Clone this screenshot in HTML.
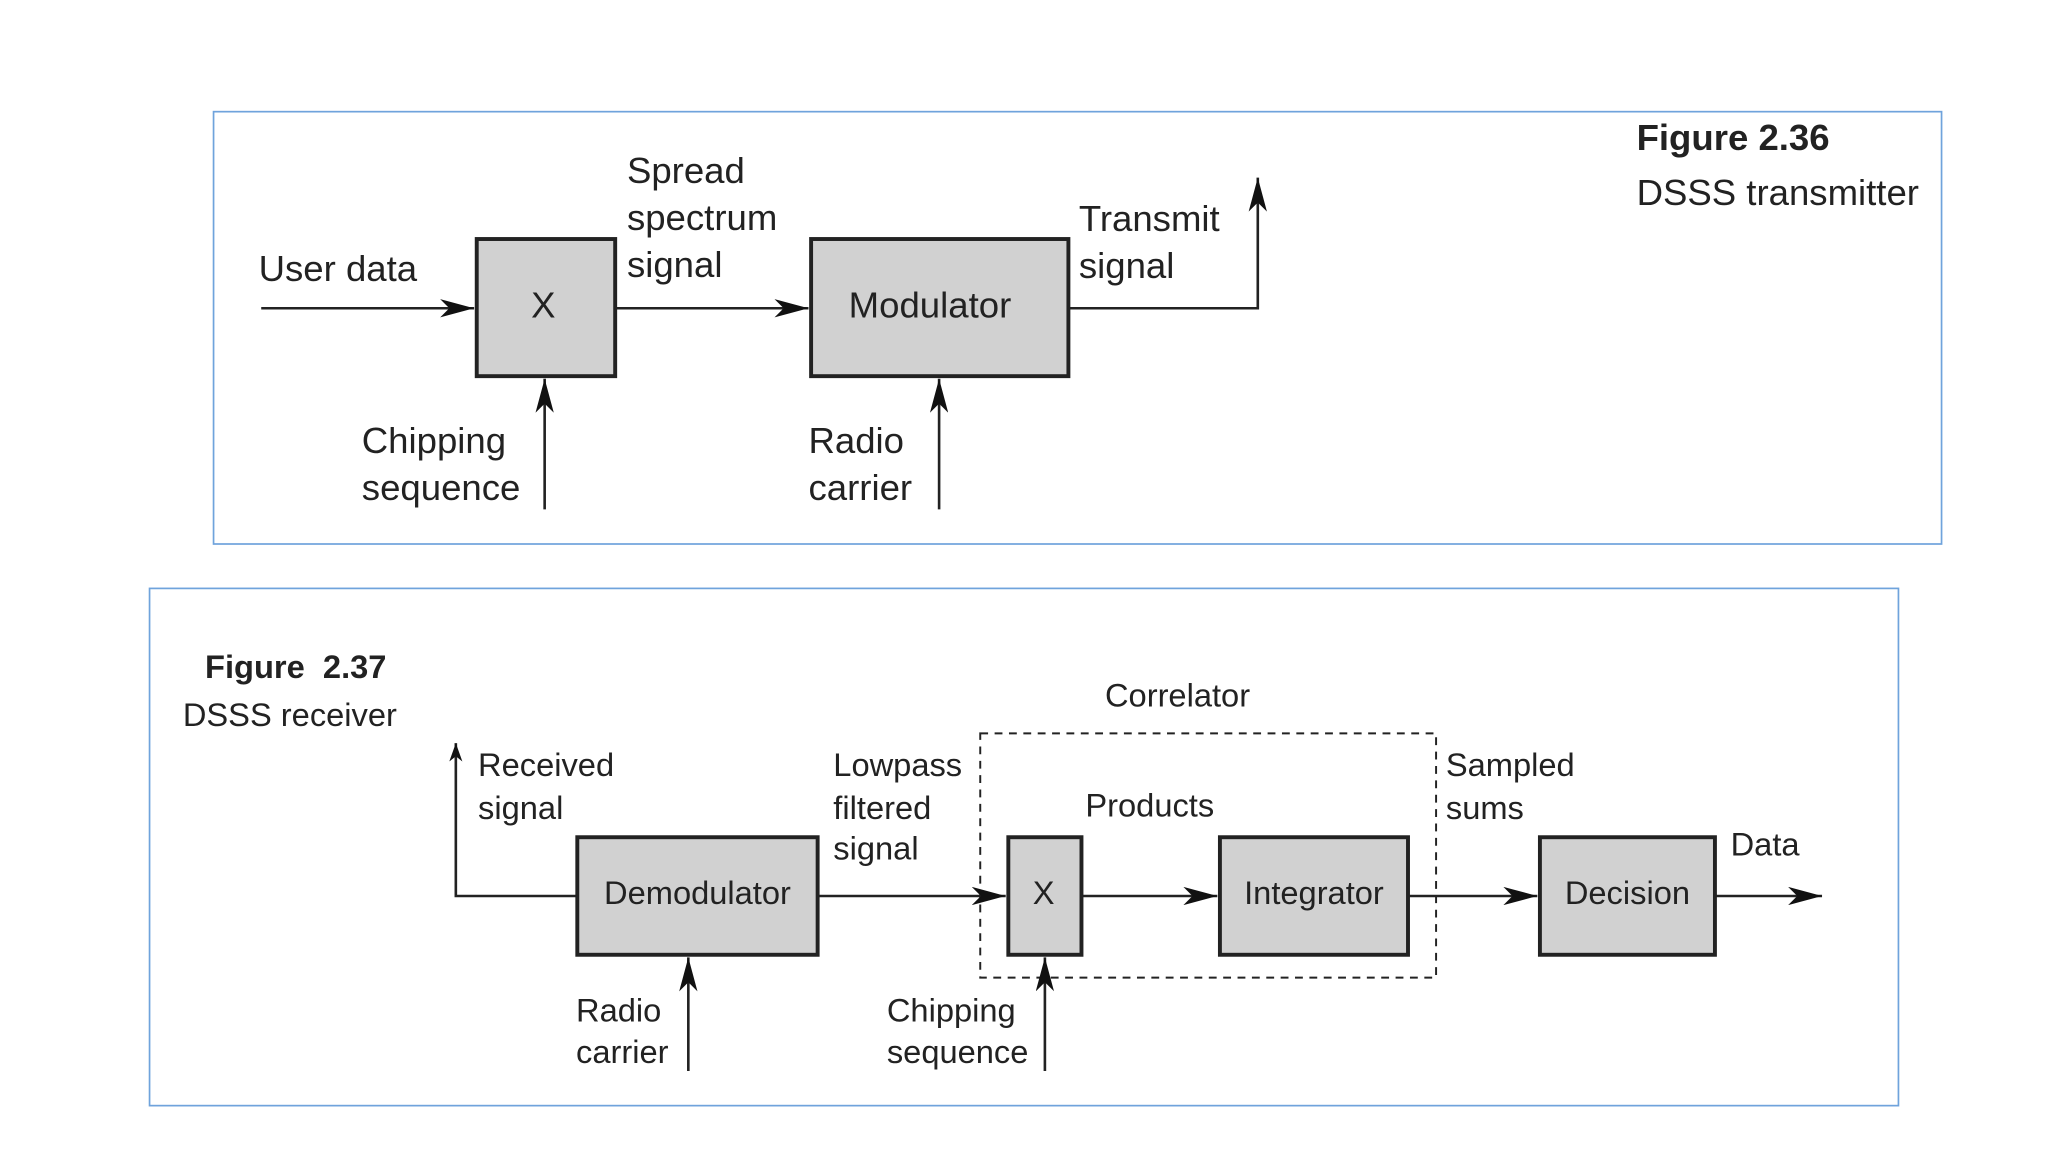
<!DOCTYPE html>
<html><head><meta charset="utf-8"><style>
html,body{margin:0;padding:0;background:#fff;}
svg{display:block;}
text{font-family:"Liberation Sans",sans-serif;fill:#222;}
</style></head><body>
<svg width="2048" height="1152" viewBox="0 0 1568 882" preserveAspectRatio="none" xmlns="http://www.w3.org/2000/svg">
<defs>
<marker id="a" markerWidth="14" markerHeight="10" refX="14" refY="5" orient="auto" markerUnits="userSpaceOnUse">
<path d="M0,0 L14,5 L0,10 L4,5 Z" fill="#111"/>
</marker>
<marker id="b" markerWidth="26" markerHeight="14" refX="26" refY="7" orient="auto" markerUnits="userSpaceOnUse">
<path d="M0,0 L26,7 L0,14 L7,7 Z" fill="#111"/>
</marker>
</defs>
<rect width="1568" height="882" fill="#fff"/>
<rect x="163.5" y="85.5" width="1323" height="331" fill="#fff" stroke="#6fa3dc" stroke-width="1.3"/>
<rect x="114.5" y="450.5" width="1339" height="396" fill="#fff" stroke="#6fa3dc" stroke-width="1.3"/>

<g stroke="#222" stroke-width="2" fill="none">
<line x1="200" y1="236" x2="363" y2="236" marker-end="url(#b)"/>
<line x1="471" y1="236" x2="619" y2="236" marker-end="url(#b)"/>
<polyline points="818,236 963,236 963,136" marker-end="url(#b)"/>
<line x1="417" y1="390" x2="417" y2="290" marker-end="url(#b)"/>
<line x1="719" y1="390" x2="719" y2="290" marker-end="url(#b)"/>
</g>
<g fill="#d1d1d1" stroke="#222" stroke-width="3">
<rect x="365" y="183" width="106" height="105"/>
<rect x="621" y="183" width="197" height="105"/>
</g>
<g font-size="28">
<text x="416" y="243" text-anchor="middle">X</text>
<text x="712" y="243" text-anchor="middle">Modulator</text>
<text x="198" y="215">User data</text>
<text x="480" y="140">Spread</text>
<text x="480" y="176">spectrum</text>
<text x="480" y="212">signal</text>
<text x="826" y="177">Transmit</text>
<text x="826" y="213">signal</text>
<text x="277" y="347">Chipping</text>
<text x="277" y="383">sequence</text>
<text x="619" y="347">Radio</text>
<text x="619" y="383">carrier</text>
<text x="1253" y="115" font-weight="bold">Figure 2.36</text>
<text x="1253" y="157">DSSS transmitter</text>
</g>

<rect x="750.5" y="561.5" width="349" height="187" fill="none" stroke="#222" stroke-width="1.5" stroke-dasharray="6,5"/>
<g stroke="#222" stroke-width="2" fill="none">
<polyline points="442,686 349,686 349,569" marker-end="url(#a)"/>
<line x1="626" y1="686" x2="770" y2="686" marker-end="url(#b)"/>
<line x1="828" y1="686" x2="932" y2="686" marker-end="url(#b)"/>
<line x1="1078" y1="686" x2="1177" y2="686" marker-end="url(#b)"/>
<line x1="1313" y1="686" x2="1395" y2="686" marker-end="url(#b)"/>
<line x1="527" y1="820" x2="527" y2="733" marker-end="url(#b)"/>
<line x1="800" y1="820" x2="800" y2="733" marker-end="url(#b)"/>
</g>
<g fill="#d1d1d1" stroke="#222" stroke-width="3">
<rect x="442" y="641" width="184" height="90"/>
<rect x="772" y="641" width="56" height="90"/>
<rect x="934" y="641" width="144" height="90"/>
<rect x="1179" y="641" width="134" height="90"/>
</g>
<g font-size="25">
<text x="534" y="692" text-anchor="middle">Demodulator</text>
<text x="799" y="692" text-anchor="middle">X</text>
<text x="1006" y="692" text-anchor="middle">Integrator</text>
<text x="1246" y="692" text-anchor="middle">Decision</text>
<text x="157" y="519" font-weight="bold">Figure&#160; 2.37</text>
<text x="140" y="556">DSSS receiver</text>
<text x="846" y="541">Correlator</text>
<text x="366" y="594">Received</text>
<text x="366" y="627">signal</text>
<text x="638" y="594">Lowpass</text>
<text x="638" y="627">filtered</text>
<text x="638" y="658">signal</text>
<text x="831" y="625">Products</text>
<text x="1107" y="594">Sampled</text>
<text x="1107" y="627">sums</text>
<text x="1325" y="655">Data</text>
<text x="441" y="782">Radio</text>
<text x="441" y="814">carrier</text>
<text x="679" y="782">Chipping</text>
<text x="679" y="814">sequence</text>
</g>
</svg>
</body></html>
